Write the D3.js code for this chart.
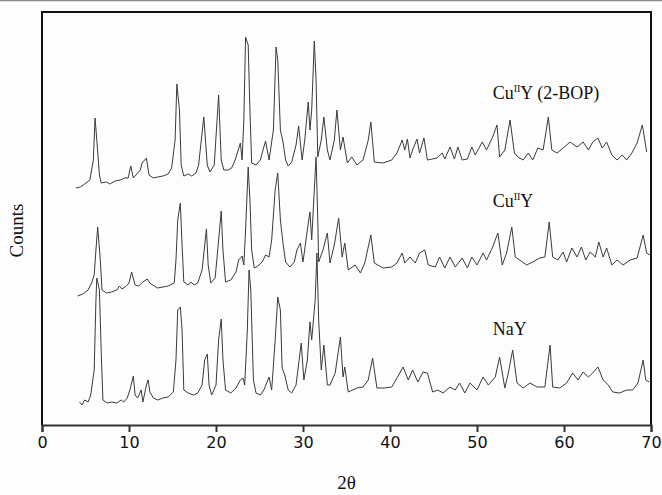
<!DOCTYPE html>
<html>
<head>
<meta charset="utf-8">
<script src="https://cdn.jsdelivr.net/npm/d3@7"></script>
<style>
  body { margin: 0; background: #fdfdfd; }
  svg { display: block; }
</style>
</head>
<body>
<script>
// 2theta / counts pairs (counts are arbitrary, traces stacked)
var cuBop = [[3.9,237],[4.4,238],[4.9,241],[5.5,245],[5.9,265],[6.1,307],[6.3,285],[6.6,250],[6.8,242],[7.4,243],[7.8,241],[8.4,244],[9.0,245],[9.5,247],[9.9,247],[10.2,259],[10.5,247],[10.8,250],[11.3,255],[11.5,262],[12.0,267],[12.3,250],[12.8,247],[13.3,248],[13.9,249],[14.5,251],[14.9,257],[15.3,285],[15.5,341],[15.8,315],[16.0,260],[16.3,249],[16.8,251],[17.2,249],[17.7,252],[18.0,260],[18.6,308],[19.0,260],[19.3,253],[19.8,260],[20.3,330],[20.6,265],[20.9,255],[21.4,255],[21.8,257],[22.2,265],[22.8,282],[23.0,265],[23.2,305],[23.4,388],[23.7,380],[23.9,315],[24.1,262],[24.6,260],[25.1,265],[25.4,275],[25.7,284],[26.1,265],[26.6,295],[26.9,378],[27.1,365],[27.4,295],[27.7,283],[28.0,265],[28.3,259],[28.7,263],[29.2,280],[29.5,299],[29.9,265],[30.2,285],[30.6,323],[30.8,295],[31.0,315],[31.3,384],[31.5,345],[31.7,268],[32.1,285],[32.4,308],[32.8,275],[33.1,265],[33.6,285],[33.9,315],[34.3,275],[34.6,288],[35.1,262],[35.6,268],[36.2,260],[36.9,265],[37.5,285],[37.8,303],[38.2,263],[39.2,262],[40.2,265],[40.8,272],[41.4,285],[41.7,275],[42.0,286],[42.3,267],[42.6,275],[43.1,286],[43.4,272],[43.9,287],[44.3,265],[45.4,267],[46.0,272],[46.3,266],[46.9,278],[47.4,266],[47.8,278],[48.3,265],[48.9,266],[49.4,278],[49.8,270],[50.6,283],[51.1,275],[51.8,288],[52.3,300],[52.6,268],[53.2,275],[53.8,305],[54.3,272],[54.7,268],[55.3,265],[55.9,272],[56.4,265],[57.0,277],[57.6,275],[58.2,308],[58.6,275],[59.2,272],[59.9,277],[60.7,283],[61.5,278],[62.2,283],[62.8,275],[63.3,283],[63.9,287],[64.4,277],[64.9,283],[65.5,270],[66.1,265],[66.7,270],[67.2,265],[67.8,272],[68.4,282],[69.0,300],[69.2,290],[69.5,273]];

var cuY = [[4.1,129],[4.7,131],[5.3,135],[5.7,142],[6.0,150],[6.2,175],[6.4,198],[6.7,165],[6.9,135],[7.4,132],[8.0,133],[8.6,135],[8.9,139],[9.2,136],[9.7,139],[10.0,142],[10.3,153],[10.7,140],[11.1,139],[11.6,143],[12.1,146],[12.4,142],[12.9,139],[13.3,137],[13.9,138],[14.5,139],[15.2,142],[15.4,165],[15.6,205],[15.9,222],[16.1,180],[16.3,143],[16.8,140],[17.1,143],[17.5,140],[17.9,142],[18.4,155],[18.9,196],[19.1,160],[19.4,142],[19.9,147],[20.2,175],[20.6,214],[20.8,175],[21.1,143],[21.7,145],[22.3,153],[22.6,165],[23.0,169],[23.2,160],[23.4,195],[23.7,258],[23.9,225],[24.1,175],[24.4,157],[24.8,159],[25.3,163],[25.7,170],[26.1,168],[26.4,185],[26.8,235],[27.1,252],[27.4,205],[27.7,182],[28.0,163],[28.5,158],[29.0,163],[29.3,175],[29.7,182],[30.0,163],[30.5,195],[30.8,213],[31.0,185],[31.3,235],[31.5,268],[31.7,205],[31.8,163],[32.3,175],[32.8,192],[33.1,162],[33.6,180],[34.1,207],[34.5,168],[34.8,182],[35.2,155],[36.0,160],[36.6,152],[37.1,162],[37.8,190],[38.2,162],[39.2,157],[40.2,158],[40.8,162],[41.4,172],[41.7,162],[42.3,168],[42.9,162],[43.4,172],[44.0,175],[44.4,160],[45.2,158],[45.7,168],[46.3,157],[46.9,168],[47.5,158],[48.3,167],[48.9,157],[49.4,168],[50.0,160],[50.7,172],[51.1,165],[51.8,178],[52.4,192],[52.9,160],[53.4,172],[54.0,198],[54.4,168],[54.9,165],[55.7,160],[56.4,163],[57.2,167],[57.8,168],[58.3,203],[58.7,168],[59.3,165],[59.9,173],[60.3,163],[60.9,177],[61.5,168],[62.0,178],[62.5,165],[63.0,173],[63.6,168],[64.0,183],[64.5,168],[64.9,177],[65.5,160],[66.1,165],[66.8,160],[67.6,165],[68.4,167],[69.1,190],[69.5,172],[69.9,170]];

var naY = [[4.3,23],[4.6,20],[4.9,25],[5.3,23],[5.6,30],[6.0,55],[6.2,125],[6.3,147],[6.6,135],[6.8,75],[7.0,25],[7.5,22],[8.0,23],[8.6,22],[9.1,25],[9.4,23],[9.8,27],[10.1,35],[10.5,49],[10.7,30],[11.0,27],[11.4,35],[11.6,23],[12.0,40],[12.2,45],[12.4,33],[12.8,27],[13.3,25],[13.9,27],[14.5,28],[15.1,33],[15.4,65],[15.6,115],[15.9,118],[16.1,95],[16.3,35],[16.8,32],[17.4,30],[17.9,32],[18.4,40],[18.7,65],[19.0,71],[19.2,40],[19.5,30],[20.0,40],[20.3,85],[20.6,106],[20.8,65],[21.1,35],[21.7,32],[22.3,37],[22.8,45],[23.1,47],[23.3,40],[23.6,95],[23.8,155],[24.0,135],[24.3,45],[24.6,32],[25.1,30],[25.5,35],[26.1,48],[26.4,35],[26.8,85],[27.1,128],[27.4,115],[27.6,57],[27.9,50],[28.3,35],[28.7,32],[29.2,40],[29.8,82],[30.1,45],[30.5,65],[30.8,103],[31.0,85],[31.4,125],[31.6,172],[31.8,105],[32.1,55],[32.4,80],[32.8,40],[33.1,40],[33.7,52],[34.3,88],[34.6,48],[34.8,58],[35.2,33],[36.2,37],[36.9,38],[37.5,45],[38.0,67],[38.5,37],[39.4,37],[40.2,38],[40.8,47],[41.5,58],[42.1,45],[42.6,55],[43.2,43],[43.8,53],[44.3,52],[44.9,33],[45.5,35],[46.1,32],[46.9,38],[47.5,35],[48.0,42],[48.6,32],[49.2,42],[50.0,35],[50.7,48],[51.3,40],[52.1,48],[52.6,68],[53.2,37],[53.6,52],[54.1,75],[54.6,42],[55.3,37],[56.1,42],[56.9,38],[57.8,38],[58.4,80],[58.7,38],[59.5,37],[60.3,42],[61.0,52],[61.6,45],[62.2,53],[62.8,48],[63.3,52],[63.9,58],[64.5,45],[65.1,40],[65.6,33],[66.4,32],[67.2,35],[67.9,35],[68.5,42],[69.1,65],[69.4,45],[69.8,43]];

var xTicks = [0, 10, 20, 30, 40, 50, 60, 70];
var seriesNames = ["CuIIY (2-BOP)", "CuIIY", "NaY"];
var labelTheta = 51.8;
var labelCounts = [326, 218, 90];

var W = 662, H = 495;
var margin = {left: 42, right: 11, top: 12, bottom: 70};

var svg = d3.select("body").append("svg")
    .attr("width", W)
    .attr("height", H);

// thin scan border at the very top
svg.append("line")
    .attr("x1", 0).attr("x2", W)
    .attr("y1", 0.5).attr("y2", 0.5)
    .attr("stroke", "#888").attr("stroke-width", 1.5);

var x = d3.scaleLinear().domain([0, 70]).range([margin.left, W - margin.right]);
var y = d3.scaleLinear().domain([0, 413]).range([H - margin.bottom, margin.top]);

// frame
svg.append("path")
    .attr("d", "M" + x(0) + "," + y(0) + "V" + y(413) + "H" + x(70) + "V" + y(0))
    .attr("fill", "none")
    .attr("stroke", "#111")
    .attr("stroke-width", 2);

var xAxis = svg.append("g")
    .attr("transform", "translate(0," + y(0) + ")")
    .call(d3.axisBottom(x).tickValues(xTicks).tickSize(7).tickPadding(5).tickFormat(d3.format("d")));
xAxis.select(".domain").attr("stroke", "#333").attr("stroke-width", 2);
xAxis.selectAll(".tick line").attr("stroke", "#333").attr("stroke-width", 2);
xAxis.selectAll(".tick text")
    .attr("font-family", "DejaVu Sans, sans-serif")
    .attr("font-size", 16)
    .attr("fill", "#111");

var line = d3.line()
    .x(function (d) { return x(d[0]); })
    .y(function (d) { return y(d[1]); });

[cuBop, cuY, naY].forEach(function (s) {
    svg.append("path")
        .datum(s)
        .attr("d", line)
        .attr("fill", "none")
        .attr("stroke", "#3a3a3a")
        .attr("stroke-width", 1)
        .attr("stroke-linejoin", "round");
});

// series labels with roman superscript
seriesNames.forEach(function (name, i) {
    var t = svg.append("text")
        .attr("x", x(labelTheta))
        .attr("y", y(labelCounts[i]))
        .attr("font-family", "Liberation Serif, Times New Roman, serif")
        .attr("font-size", 18)
        .attr("fill", "#111");
    if (name.indexOf("CuII") === 0) {
        t.append("tspan").text("Cu");
        t.append("tspan").attr("font-size", 10).attr("dy", -7).text("II");
        t.append("tspan").attr("dy", 7).text(name.slice(4));
    } else {
        t.text(name);
    }
});

svg.append("text")
    .attr("transform", "translate(23," + ((margin.top + y(0)) / 2 + 12) + ") rotate(-90)")
    .attr("text-anchor", "middle")
    .attr("font-family", "Liberation Serif, Times New Roman, serif")
    .attr("font-size", 19)
    .attr("fill", "#111")
    .text("Counts");

svg.append("text")
    .attr("x", x(35))
    .attr("y", 489)
    .attr("text-anchor", "middle")
    .attr("font-family", "Liberation Serif, Times New Roman, serif")
    .attr("font-size", 19)
    .attr("fill", "#111")
    .text("2θ");
</script>
</body>
</html>
